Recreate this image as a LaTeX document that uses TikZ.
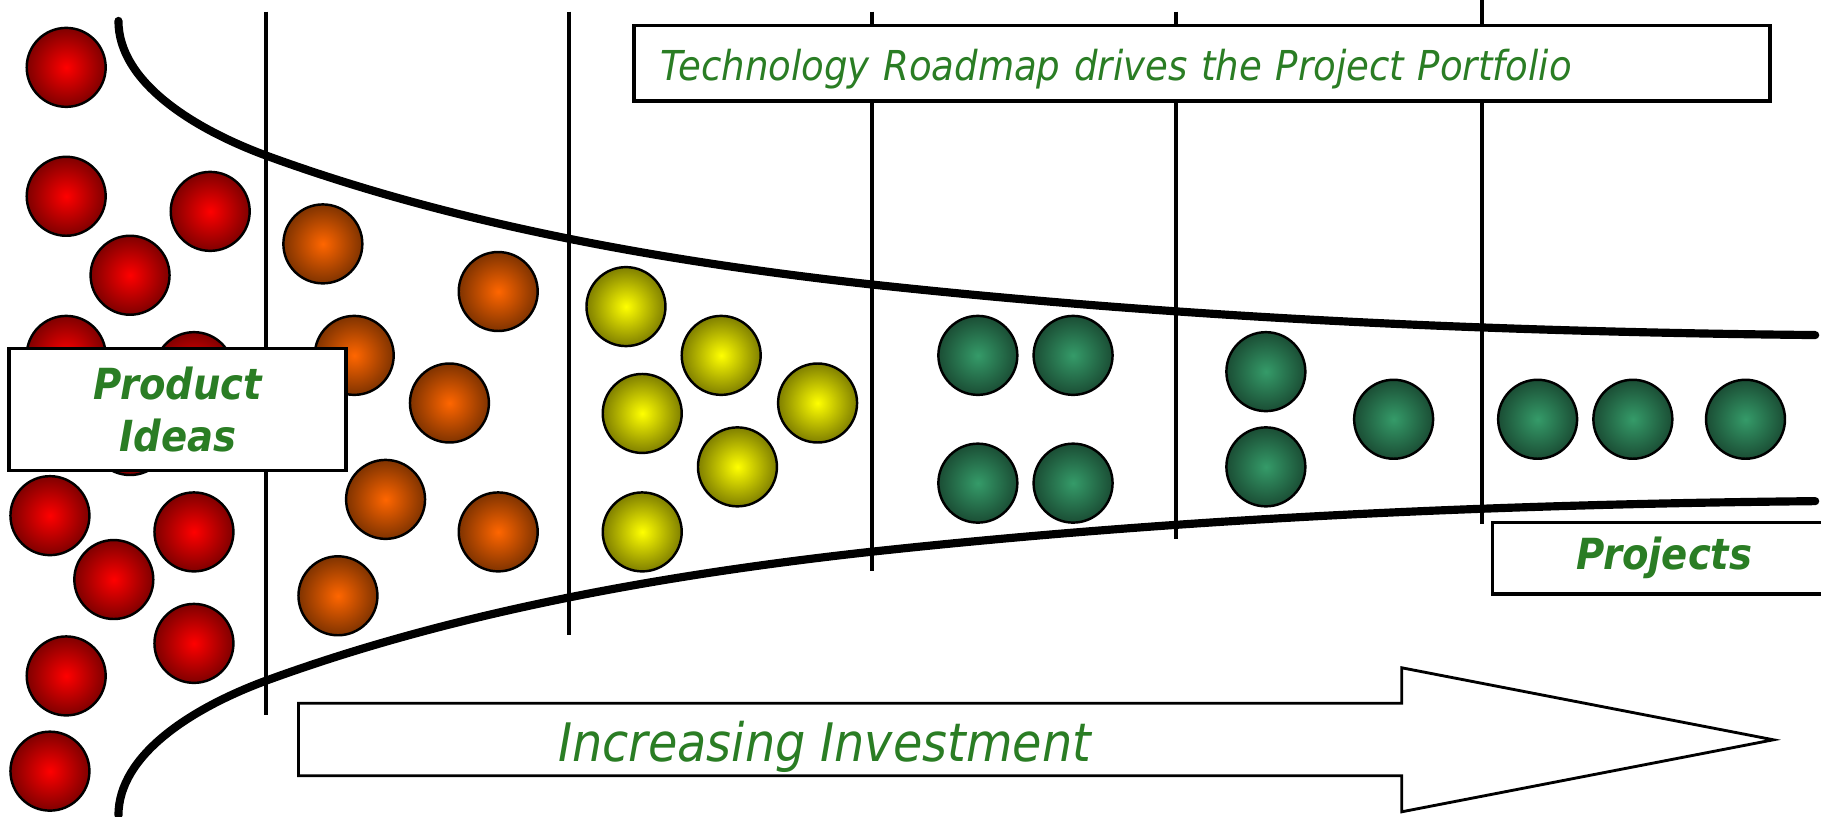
\documentclass[tikz,border=0pt]{standalone}
\usepackage{fontspec}
\setmainfont{DejaVu Sans Condensed}[
    BoldFont = {DejaVu Sans Condensed Bold},
    ItalicFont = {DejaVu Sans Condensed Oblique},
    BoldItalicFont = {DejaVu Sans Condensed Bold Oblique}]
\definecolor{textgreen}{RGB}{42,125,36}
\definecolor{ballorange}{RGB}{255,102,0}
\definecolor{ballyellow}{RGB}{255,255,0}
\definecolor{ballgreen}{RGB}{53,155,105}

\begin{document}
\begin{tikzpicture}[x=0.1mm, y=-0.1mm,
    ball/.style={circle, draw=black, line width=0.6pt, minimum size=6.8mm, inner sep=0pt},
    redball/.style={ball, inner color=red, outer color=red!50!black},
    orangeball/.style={ball, inner color=ballorange, outer color=ballorange!50!black},
    yellowball/.style={ball, inner color=ballyellow, outer color=ballyellow!50!black},
    greenball/.style={ball, inner color=ballgreen, outer color=ballgreen!50!black},
    gate/.style={line width=1pt},
    funnel/.style={line width=2pt, line cap=round},
    labelbox/.style={draw=black, fill=white, line width=0.9pt, text=textgreen}]

    \useasboundingbox (0,0) rectangle (1568,703);

    % Ideas
    \foreach \x/\y [count=\i] in {57/58, 57/169, 181/182, 112/237, 57/306, 167/320, 112/375,
        43/444, 167/458, 98/499, 167/554, 57/582, 43/664}
        \node[redball] (red\i) at (\x,\y) {};
    \foreach \x/\y [count=\i] in {278/210, 429/251, 305/306, 387/347, 332/430, 429/458, 291/513}
        \node[orangeball] (orange\i) at (\x,\y) {};
    \foreach \x/\y [count=\i] in {539/264, 621/306, 553/356, 704/347, 635/402, 553/458}
        \node[yellowball] (yellow\i) at (\x,\y) {};
    \foreach \x/\y [count=\i] in {842/306, 924/306, 842/416, 924/416, 1090/320, 1090/402,
        1200/361, 1324/361, 1406/361, 1503/361}
        \node[greenball] (green\i) at (\x,\y) {};

    % Stage gates
    \foreach \x/\ytop/\ybot in {229/10/616, 490/10/547, 751/10/492, 1013/10/464, 1276/0/451}
        \draw[gate] (\x,\ytop) -- (\x,\ybot);

    % Funnel
    \draw[funnel] (102,18) .. controls (102,70) and (165,110) .. (228,133.5)
        .. controls (378,188.5) and (551,223) .. (751,245)
        .. controls (1001,272) and (1263,285.5) .. (1563,288.5);
    \draw[funnel] (102,702) .. controls (102,650) and (165,610) .. (228,586.5)
        .. controls (378,531.5) and (551,497) .. (751,475)
        .. controls (1001,448) and (1263,434.5) .. (1563,431.5);

    % Labels
    \node[labelbox, minimum width=97.8mm, minimum height=6.1mm, text width=93.2mm,
        inner xsep=2.3mm, align=left, text height=10pt, text depth=1.8pt,
        font=\itshape\fontsize{10.1}{12}\selectfont] (roadmap) at (1035,54.5)
        {Technology Roadmap drives the Project Portfolio};

    \node[labelbox, minimum width=29mm, minimum height=10.5mm, align=center,
        font=\bfseries\itshape\fontsize{10.5}{12.8}\selectfont] (ideas) at (153,352.5)
        {Product\\Ideas};

    \node[labelbox, minimum width=29.6mm, minimum height=6.15mm,
        font=\bfseries\itshape\fontsize{10.5}{12.8}\selectfont] (projects) at (1433,480.75)
        {Projects};

    % Investment arrow
    \draw[line width=0.7pt, fill=white] (257,605.5) -- (1207,605.5) -- (1207,575) -- (1527,637)
        -- (1207,699) -- (1207,668) -- (257,668) -- cycle;
    \node[anchor=base, text=textgreen, font=\itshape\fontsize{13}{15}\selectfont] (invest)
        at (710,656) {Increasing Investment};
\end{tikzpicture}
\end{document}
